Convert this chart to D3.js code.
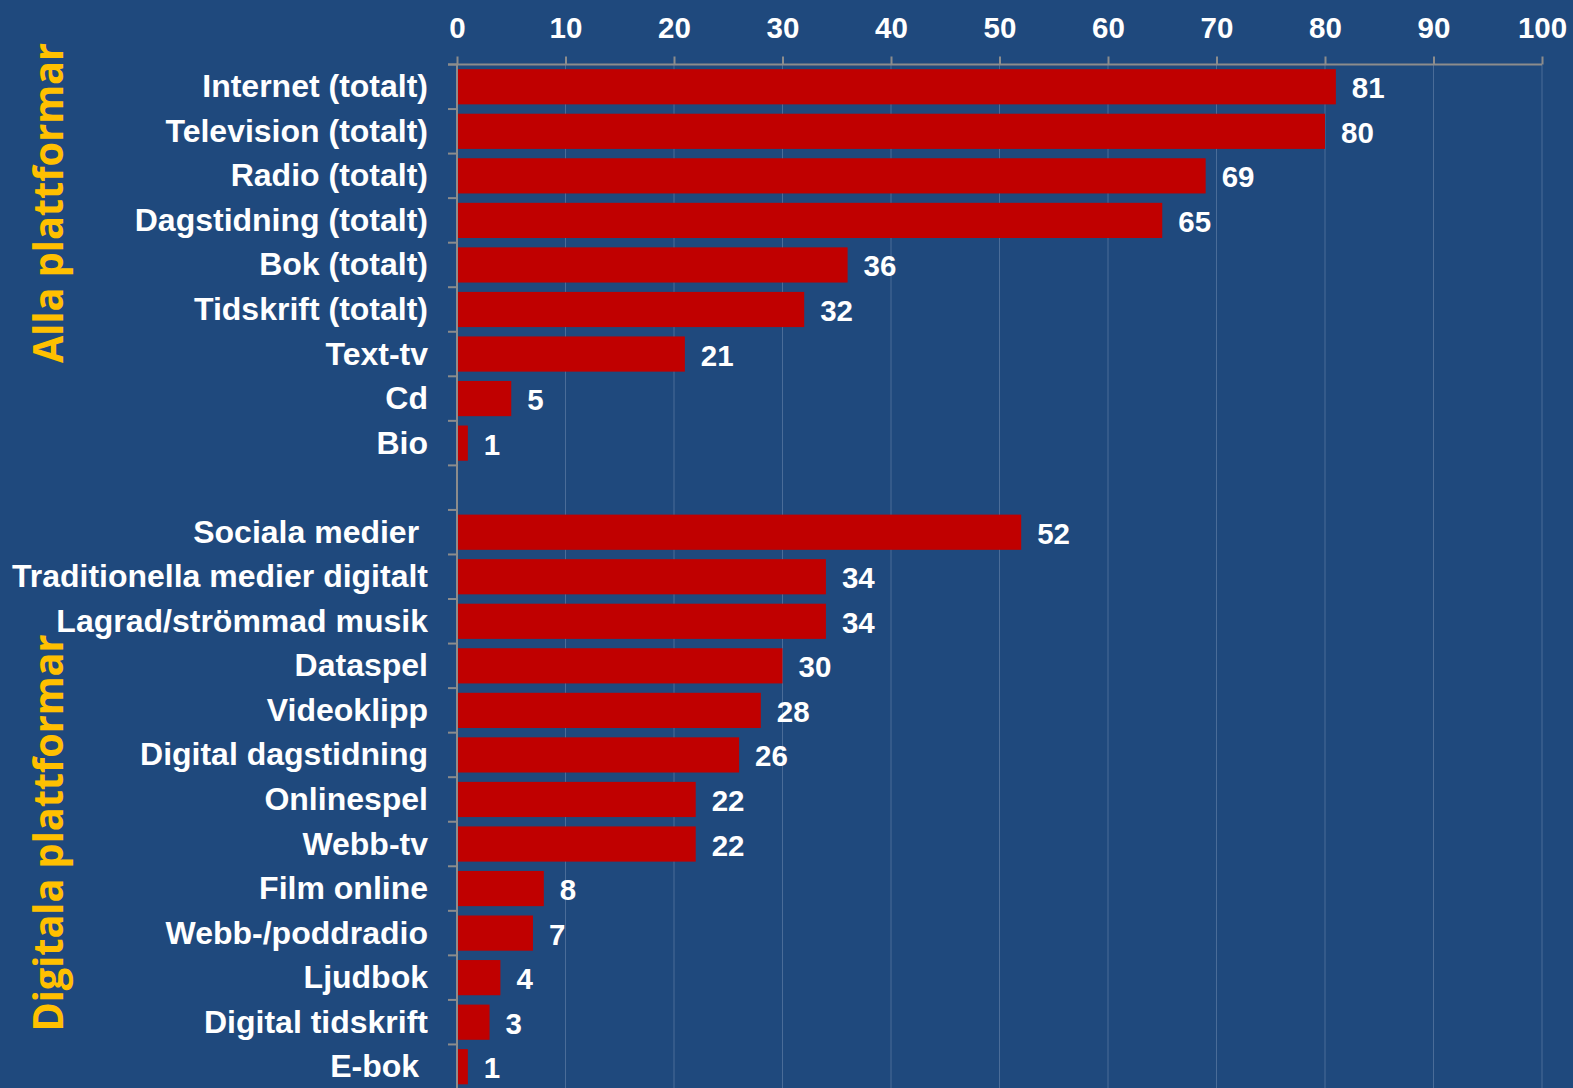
<!DOCTYPE html>
<html><head><meta charset="utf-8">
<script src="https://cdn.jsdelivr.net/npm/d3@7"></script>
<style>
html,body{margin:0;padding:0;background:#1f497d;}
svg{display:block;}
text{white-space:pre;}
</style></head>
<body>
<svg id="chart" width="1573" height="1088"></svg>
<script>
const groupNames = ["Alla plattformar", "Digitala plattformar"];
const categoriesAll = ["Internet (totalt)", "Television (totalt)", "Radio (totalt)", "Dagstidning (totalt)", "Bok (totalt)", "Tidskrift (totalt)", "Text-tv", "Cd", "Bio"];
const valuesAll = [81, 80, 69, 65, 36, 32, 21, 5, 1];
const categoriesDigital = ["Sociala medier ", "Traditionella medier digitalt", "Lagrad/strömmad musik", "Dataspel", "Videoklipp", "Digital dagstidning", "Onlinespel", "Webb-tv", "Film online", "Webb-/poddradio", "Ljudbok", "Digital tidskrift", "E-bok "];
const valuesDigital = [52, 34, 34, 30, 28, 26, 22, 22, 8, 7, 4, 3, 1];
const xTicks = [0, 10, 20, 30, 40, 50, 60, 70, 80, 90, 100];

(function () {
const rows = [];
categoriesAll.forEach((c, i) => rows.push({key: "a" + i, label: c, value: valuesAll[i], group: 0}));
rows.push({key: "gap", label: "", value: null, group: -1});
categoriesDigital.forEach((c, i) => rows.push({key: "d" + i, label: c, value: valuesDigital[i], group: 1}));

const svg = d3.select("#chart");
const W = 1573, H = 1088;
const mLeft = 457, mRight = 1542, mTop = 64.5, mBottom = 1089;

svg.append("rect").attr("width", W).attr("height", H).attr("fill", "#1f497d");

const x = d3.scaleLinear().domain([0, 100]).range([mLeft, mRight]);
const y = d3.scaleBand().domain(rows.map(r => r.key)).range([mTop, mBottom]).paddingInner(0.21).paddingOuter(0.105);

// gridlines
svg.append("g").selectAll("line").data(xTicks.filter(t => t > 0)).join("line")
  .attr("x1", d => x(d)).attr("x2", d => x(d))
  .attr("y1", mTop).attr("y2", mBottom)
  .attr("stroke", "#4a6c98").attr("stroke-width", 1);

// bars
const dataRows = rows.filter(r => r.value !== null);
svg.append("g").selectAll("rect").data(dataRows).join("rect")
  .attr("x", x(0)).attr("y", d => y(d.key))
  .attr("width", d => x(d.value) - x(0)).attr("height", y.bandwidth())
  .attr("fill", "#c00000");

// top axis
const xAxis = d3.axisTop(x).tickValues(xTicks).tickSize(8).tickPadding(19).tickFormat(d3.format("d"));
const gx = svg.append("g").attr("transform", `translate(0,${mTop})`).call(xAxis);
gx.select(".domain").attr("stroke", "#8c8c8c").attr("stroke-width", 2).attr("d", `M${mLeft - 9},0H${mRight}`);
gx.selectAll(".tick line").attr("stroke", "#8c8c8c").attr("stroke-width", 2);
gx.selectAll(".tick text").attr("fill", "#ffffff").attr("font-family", "'Liberation Sans', Arial, sans-serif")
  .attr("font-weight", "bold").attr("font-size", "29.5px");

// left axis line and category boundary ticks
const step = y.step();
const y0 = y.range()[0];
const boundaries = d3.range(rows.length + 1).map(i => y0 + i * step);
svg.append("line").attr("x1", mLeft).attr("x2", mLeft).attr("y1", mTop).attr("y2", mBottom)
  .attr("stroke", "#8c8c8c").attr("stroke-width", 2);
svg.append("g").selectAll("line").data(boundaries).join("line")
  .attr("x1", mLeft - 9).attr("x2", mLeft).attr("y1", d => d).attr("y2", d => d)
  .attr("stroke", "#8c8c8c").attr("stroke-width", 2);

// category labels
svg.append("g").selectAll("text").data(dataRows).join("text")
  .attr("x", 428).attr("y", d => y(d.key) + y.bandwidth() / 2 + 10.5)
  .attr("text-anchor", "end")
  .attr("fill", "#ffffff").attr("font-family", "'Liberation Sans', Arial, sans-serif")
  .attr("font-weight", "bold").attr("font-size", "32px")
  .text(d => d.label);

// value labels
svg.append("g").selectAll("text").data(dataRows).join("text")
  .attr("x", d => x(d.value) + 16).attr("y", d => y(d.key) + y.bandwidth() / 2 + 11.5)
  .attr("fill", "#ffffff").attr("font-family", "'Liberation Sans', Arial, sans-serif")
  .attr("font-weight", "bold").attr("font-size", "29.5px")
  .text(d => d.value);

// group labels
const groupCenters = [203, 833];
const groupLengths = [320, 397];
svg.append("g").selectAll("text").data(groupNames).join("text")
  .attr("transform", (d, i) => `translate(63,${groupCenters[i]}) rotate(-90)`)
  .attr("text-anchor", "middle")
  .attr("fill", "#ffc000").attr("font-family", "'Open Sans', 'Noto Sans', sans-serif")
  .attr("font-weight", "bold").attr("font-size", "42px")
  .attr("textLength", (d, i) => groupLengths[i]).attr("lengthAdjust", "spacingAndGlyphs")
  .text(d => d);
})();
</script>
</body></html>
